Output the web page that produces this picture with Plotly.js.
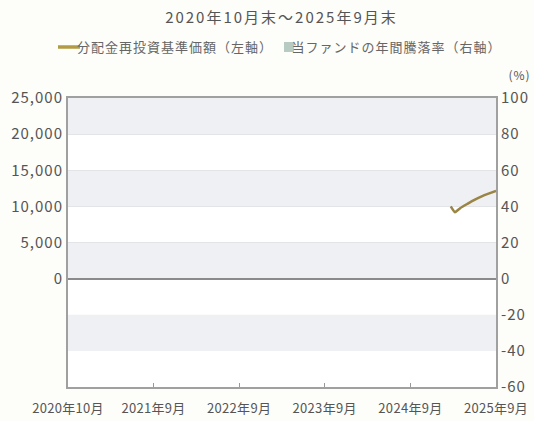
<!DOCTYPE html>
<html><head><meta charset="utf-8">
<script src="https://cdn.plot.ly/plotly-3.0.1.min.js"></script>
<style>
html,body{margin:0;padding:0;background:#fdfdf9;}
#chart{width:534px;height:421px;}
#chart .gtitle{letter-spacing:2px;}
#chart .annotation-text{letter-spacing:1px;}
#chart .ytick text, #chart .y2tick text{letter-spacing:1px;}
#chart .xtick text{letter-spacing:0.3px;}
</style>
</head><body><div id="chart"></div>
<script>
// 基準価額（分配金再投資）
const navDates = ["2025-03-21","2025-04-08","2025-04-30","2025-05-31","2025-06-30","2025-07-31","2025-08-29","2025-09-30"];
const navValues = [10000, 9200, 9750, 10350, 10900, 11380, 11760, 12150];
// 年間騰落率（データなし）
const retDates = ["2025-09-30"];
const retValues = [null];
// 凡例
const seriesNames = ["分配金再投資基準価額（左軸）", "当ファンドの年間騰落率（右軸）"];
const seriesColors = ["#9a8545", "#b7cbc3"];
// 軸目盛
const xTickDates = ["2020-09-30","2021-09-30","2022-09-30","2023-09-30","2024-09-30","2025-09-30"];
const xTickLabels = ["2020年10月","2021年9月","2022年9月","2023年9月","2024年9月","2025年9月"];
const yLeftTicks = [0, 5000, 10000, 15000, 20000, 25000];
const yLeftLabels = ["0","5,000","10,000","15,000","20,000","25,000"];
const yRightTicks = [-60,-40,-20,0,20,40,60,80,100];
const yRightLabels = ["-60","-40","-20","0","20","40","60","80","100"];

const font = "Noto Sans CJK JP, Noto Sans, sans-serif";
const bandColor = "#eef0f3";
const bands = [[20000,25000],[10000,15000],[0,5000],[-10000,-5000]];
const shapes = bands.map(b => ({type:"rect", xref:"paper", yref:"y", x0:0, x1:1, y0:b[0], y1:b[1],
  fillcolor:bandColor, line:{width:0}, layer:"below"}));

// manual legend (paper coords: plot spans x 68..496 px, y 98..387 px)
const px = x => (x - 68) / 428;
const py = y => (387 - y) / 289;
shapes.push({type:"line", xref:"paper", yref:"paper", x0:px(58), x1:px(80), y0:py(47), y1:py(47),
  line:{color:"#b39a45", width:3.5}});
shapes.push({type:"rect", xref:"paper", yref:"paper", x0:px(284), x1:px(294), y0:py(52), y1:py(42),
  fillcolor:seriesColors[1], line:{width:0}});

const traces = [
  {type:"bar", x:retDates, y:retValues, yaxis:"y2", name:seriesNames[1],
   marker:{color:seriesColors[1]}, showlegend:false},
  {type:"scatter", mode:"lines", x:navDates, y:navValues, name:seriesNames[0],
   line:{color:seriesColors[0], width:2.5, shape:"spline", smoothing:0.5}, showlegend:false}
];

const layout = {
  width:534, height:421,
  paper_bgcolor:"#fdfdf9", plot_bgcolor:"#ffffff",
  margin:{l:68, r:38, t:98, b:34},
  font:{family:font, color:"#555", size:12},
  title:{text:"2020年10月末～2025年9月末", x:0.527, xref:"container", y:0.957, yanchor:"middle",
         font:{family:font, size:15, color:"#555"}},
  showlegend:false,
  shapes: shapes,
  xaxis:{type:"date", range:["2020-09-30","2025-09-30"], tickvals:xTickDates, ticktext:xTickLabels,
         showgrid:false, showline:true, linecolor:"#a0a0a0", linewidth:2, mirror:true,
         ticks:"inside", ticklen:4, tickcolor:"#999", zeroline:false, ticklabelstandoff:8,
         tickfont:{family:font, size:13, color:"#555"}},
  yaxis:{range:[-15000,25000], tickvals:yLeftTicks, ticktext:yLeftLabels,
         showgrid:true, gridcolor:"#e2e4e8", gridwidth:1, zeroline:true, zerolinecolor:"#8a8a8a", zerolinewidth:2,
         showline:true, linecolor:"#a0a0a0", linewidth:2, ticks:"", ticklen:0,
         tickfont:{family:font, size:15, color:"#555"}},
  yaxis2:{range:[-60,100], overlaying:"y", side:"right", tickvals:yRightTicks, ticktext:yRightLabels,
          showgrid:false, zeroline:false, showline:true, linecolor:"#a0a0a0", linewidth:2,
          tickfont:{family:font, size:15, color:"#555"}},
  annotations:[
    {text:"(%)", xref:"paper", yref:"paper", x:1.0, y:1.0, xanchor:"left", yanchor:"bottom",
     xshift:12, yshift:13, showarrow:false, font:{family:font, size:12, color:"#555"}},
    {text:seriesNames[0], xref:"paper", yref:"paper", x:px(82), y:py(47), xanchor:"left", yanchor:"middle",
     showarrow:false, font:{family:font, size:13, color:"#666"}},
    {text:seriesNames[1], xref:"paper", yref:"paper", x:px(297), y:py(47), xanchor:"left", yanchor:"middle",
     showarrow:false, font:{family:font, size:13, color:"#666"}}
  ]
};
Plotly.newPlot("chart", traces, layout, {displayModeBar:false, staticPlot:true});
</script></body></html>
